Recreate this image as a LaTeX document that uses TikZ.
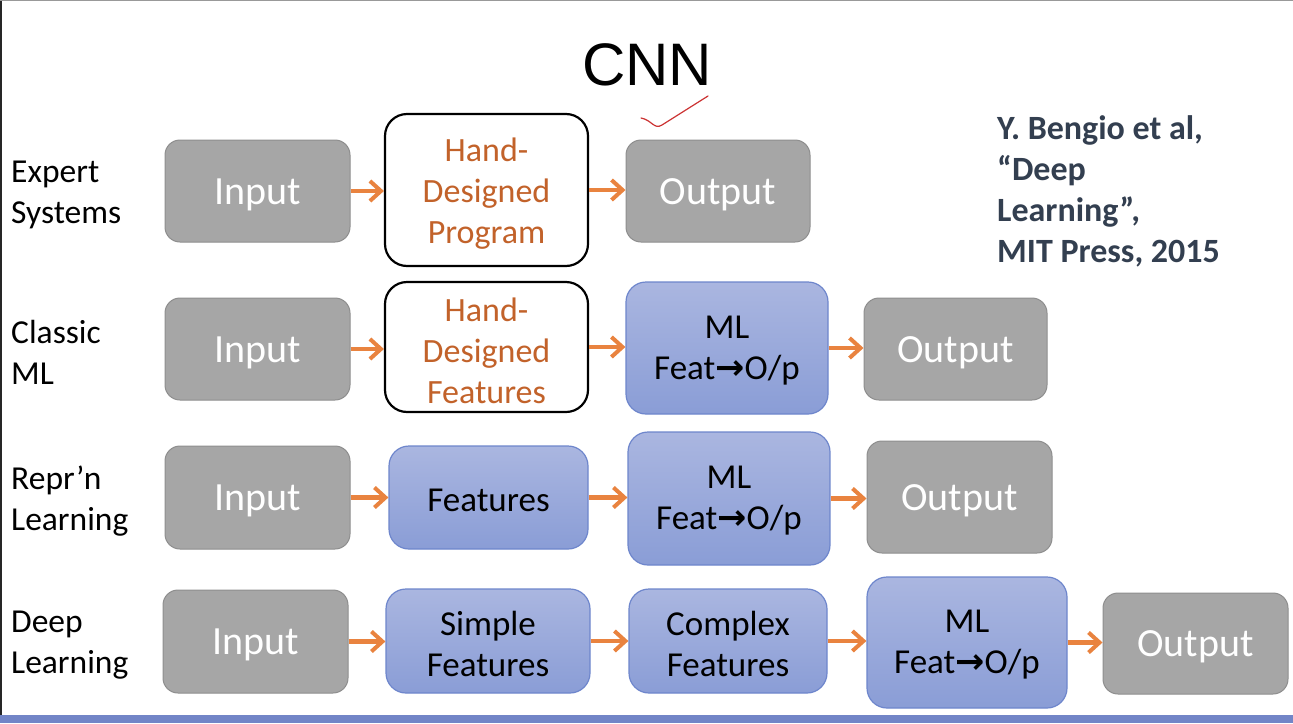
\documentclass[tikz,border=0pt]{standalone}
\usepackage{fontspec}
\setmainfont{Carlito}
\newfontfamily\cnnfont{Liberation Sans}
\newfontfamily\arrfont{DejaVu Sans}
\usetikzlibrary{arrows.meta}
\definecolor{grayfill}{HTML}{A6A6A6}
\definecolor{grayedge}{HTML}{8E8E8E}
\definecolor{bluetop}{HTML}{AAB6E0}
\definecolor{bluebot}{HTML}{8A9DD6}
\definecolor{blueedge}{HTML}{6E86CC}
\definecolor{arrorange}{HTML}{E9833F}
\definecolor{handtext}{HTML}{C2622A}
\definecolor{refcol}{HTML}{333F50}
\definecolor{barblue}{HTML}{7285C7}
\newcommand\featarrow{Feat{\arrfont\bfseries →}O/p}
\begin{document}
\begin{tikzpicture}[x=1pt,y=-1pt,
  graybox/.style={fill=grayfill, draw=grayedge, line width=1pt, rounded corners=15pt, inner sep=0pt},
  handbox/.style={fill=white, draw=black, line width=2.2pt, rounded corners=22pt, inner sep=0pt},
  bluebox/.style={top color=bluetop, bottom color=bluebot, draw=blueedge, line width=1.2pt, rounded corners=20pt, inner sep=0pt},
  graytxt/.style={text=white, inner sep=0pt, align=center, font=\fontsize{40}{41}\selectfont, yshift=-3.5pt},
  handtxt/.style={text=handtext, inner sep=0pt, align=center, font=\fontsize{34}{41}\selectfont, yshift=-3.5pt},
  bluetxt/.style={text=black, inner sep=0pt, align=center, font=\fontsize{35}{41}\selectfont, yshift=-2.5pt},
  rowlabel/.style={anchor=west, align=left, inner sep=0pt, font=\fontsize{33.5}{41}\selectfont},
  arr/.style={draw=arrorange, line width=4.5pt, -{Straight Barb[length=11pt,width=20pt,line width=4pt]}}
]
\useasboundingbox (0,0) rectangle (1293,723);
\fill[white] (0,0) rectangle (1293,723);
\fill[barblue] (0,715) rectangle (1293,723);
\fill[black!85] (0,0) rectangle (1.6,715);
\fill[gray!80] (0,0) rectangle (1293,1.2);

% title
\node[font=\cnnfont\fontsize{60}{60}\selectfont, inner sep=0pt] (cnn) at (647,65) {CNN};
\draw[red!75!black!80, line width=1.2pt, line cap=round] (641,118) .. controls (652,120) and (654,130) .. (662,125) -- (708,96);

% reference
\node[anchor=north west, align=left, inner sep=0pt, text=refcol, font=\bfseries\fontsize{34}{41}\selectfont] (ref) at (997,115) {Y. Bengio et al,\\“Deep\\Learning”,\\MIT Press, 2015};

% row labels
\node[rowlabel] (l1) at (11,195) {Expert\\Systems};
\node[rowlabel] (l2) at (11,352) {Classic\\ML};
\node[rowlabel] (l3) at (11,501) {Repr’n\\Learning};
\node[rowlabel] (l4) at (11,645) {Deep\\Learning};

% row 1
\node[graybox, minimum width=185pt, minimum height=102pt] (in1) at (257.5,191) {};
\node[handbox, minimum width=203pt, minimum height=152pt] (hd1) at (486.5,190) {};
\node[graybox, minimum width=184pt, minimum height=102pt] (out1) at (718,191) {};
\node[graytxt] (in1t) at (in1) {Input};
\node[handtxt] (hd1t) at (hd1) {Hand-\\Designed\\Program};
\node[graytxt] (out1t) at (out1) {Output};

% row 2
\node[graybox, minimum width=185pt, minimum height=102pt] (in2) at (257.5,349) {};
\node[handbox, minimum width=203pt, minimum height=130pt] (hd2) at (486.5,347) {};
\node[bluebox, minimum width=202pt, minimum height=132pt] (ml2) at (727,348) {};
\node[graybox, minimum width=183pt, minimum height=102pt] (out2) at (955.5,349) {};
\node[graytxt] (in2t) at (in2) {Input};
\node[handtxt] (hd2t) at (hd2) {Hand-\\Designed\\Features};
\node[bluetxt] (ml2t) at (ml2) {ML\\\featarrow};
\node[graytxt] (out2t) at (out2) {Output};

% row 3
\node[graybox, minimum width=185pt, minimum height=103pt] (in3) at (257.5,497.5) {};
\node[bluebox, minimum width=199pt, minimum height=103pt] (f3) at (488.5,497.5) {};
\node[bluebox, minimum width=202pt, minimum height=133pt] (ml3) at (729,498.5) {};
\node[graybox, minimum width=185pt, minimum height=112pt] (out3) at (959.5,497) {};
\node[graytxt] (in3t) at (in3) {Input};
\node[bluetxt] (f3t) at (f3) {Features};
\node[bluetxt] (ml3t) at (ml3) {ML\\\featarrow};
\node[graytxt] (out3t) at (out3) {Output};

% row 4
\node[graybox, minimum width=185pt, minimum height=103pt] (in4) at (255.5,641.5) {};
\node[bluebox, minimum width=204pt, minimum height=104pt] (sf4) at (488,641) {};
\node[bluebox, minimum width=198pt, minimum height=104pt] (cf4) at (728,641) {};
\node[bluebox, minimum width=200pt, minimum height=131pt] (ml4) at (967,642.5) {};
\node[graybox, minimum width=185pt, minimum height=101pt] (out4) at (1195.5,643.5) {};
\node[graytxt] (in4t) at (in4) {Input};
\node[bluetxt] (sf4t) at (sf4) {Simple\\Features};
\node[bluetxt] (cf4t) at (cf4) {Complex\\Features};
\node[bluetxt] (ml4t) at (ml4) {ML\\\featarrow};
\node[graytxt] (out4t) at (out4) {Output};

% arrows
\foreach \a/\b in {in1/hd1, hd1/out1, in2/hd2, hd2/ml2, ml2/out2, in3/f3, f3/ml3, ml3/out3, in4/sf4, sf4/cf4, cf4/ml4, ml4/out4}
  \draw[arr] (\a.east) -- (\a.east -| \b.west);
\end{tikzpicture}
\end{document}
